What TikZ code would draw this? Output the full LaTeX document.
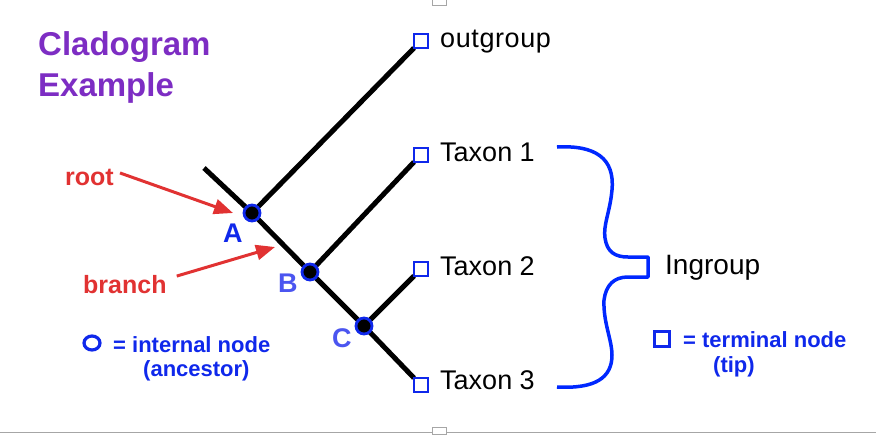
\documentclass[tikz,border=0pt]{standalone}
\usepackage{fontspec}
\setmainfont{Liberation Sans}
\usetikzlibrary{arrows.meta}
\definecolor{ttlpurple}{RGB}{125,45,195}
\definecolor{rootred}{RGB}{225,50,50}
\definecolor{nodeblue}{RGB}{15,40,235}
\definecolor{lightblue}{RGB}{75,85,240}
\definecolor{bracecol}{RGB}{0,40,255}
\tikzset{
  tip/.style={draw=nodeblue, line width=2.5pt, fill=white, minimum size=14pt, inner sep=0pt, outer sep=0pt},
  inner/.style={circle, draw=nodeblue, line width=2.8pt, fill=black, minimum size=16pt, inner sep=0pt},
  stem/.style={line width=5pt, black},
  redarrow/.style={rootred, line width=3pt, -{Triangle[length=19pt,width=15pt]}},
  txt/.style={anchor=base west, inner sep=0pt},
  title/.style={txt, text=ttlpurple, font=\fontsize{33}{38}\selectfont\bfseries},
  taxon/.style={txt, text=black, font=\fontsize{27}{30}\selectfont},
  redlbl/.style={txt, text=rootred, font=\fontsize{25}{30}\selectfont\bfseries},
  letter/.style={txt, font=\fontsize{27}{30}\selectfont\bfseries},
  legend/.style={txt, text=nodeblue, font=\fontsize{22}{26}\selectfont\bfseries},
}
\begin{document}
\begin{tikzpicture}[x=1pt,y=-1pt]
\useasboundingbox (0,0) rectangle (876,434);
% frame artifacts
\draw[gray!70, line width=1.5pt] (0,432.5) -- (876,432.5);
\draw[gray!70, line width=1pt, fill=white] (432,434) rectangle (446,427);
\draw[gray!70, line width=1pt, fill=white] (432,-1) rectangle (446,5);
% title
\node[title] (t1l) at (38,55) {Cladogram};
\node[title] (t2l) at (38,96) {Example};
% coordinates
\coordinate (rs) at (204,168);
\coordinate (pa) at (252,213);
\coordinate (pb) at (310,272);
\coordinate (pc) at (364,326);
% tips
\node[tip] (tO) at (421,41) {};
\node[tip] (tA) at (421,155) {};
\node[tip] (tB) at (421,269) {};
\node[tip] (tC) at (421,385) {};
% branches
\draw[stem] (rs) -- (pa) -- (pb) -- (pc) -- (tC.north west);
\draw[stem] (pa) -- (tO.south west);
\draw[stem] (pb) -- (tA.south west);
\draw[stem] (pc) -- (tB.south west);
% redraw tips on top
\node[tip] at (421,41) {};
\node[tip] at (421,155) {};
\node[tip] at (421,269) {};
\node[tip] at (421,385) {};
% internal nodes
\node[inner] (nA) at (pa) {};
\node[inner] (nB) at (pb) {};
\node[inner] (nC) at (pc) {};
% taxon labels
\node[taxon] (lo) at (440,47) {o\kern0.6pt u\kern0.6pt t\kern0.6pt g\kern0.6pt r\kern0.6pt o\kern0.6pt u\kern0.6pt p};
\node[taxon] (l1) at (440,161) {Taxon 1};
\node[taxon] (l2) at (440,275) {Taxon 2};
\node[taxon] (l3) at (440,389) {Taxon 3};
\node[taxon, font=\fontsize{28}{30}\selectfont] (lin) at (665,274) {Ingroup};
% brace
\draw[bracecol, line width=3.5pt, line join=round]
  (557,147) .. controls (595,145) and (615,158) .. (612,190)
  .. controls (610,212) and (603,225) .. (605,238)
  .. controls (607,252) and (615,257) .. (628,257)
  -- (648,257) -- (648,277) -- (628,277)
  .. controls (614,277) and (606,285) .. (604,300)
  .. controls (603,322) and (612,340) .. (612,355)
  .. controls (612,378) and (595,389) .. (557,387);
% letters
\node[letter, text=nodeblue] (la) at (223,242) {A};
\node[letter, text=lightblue] (lb) at (278,292) {B};
\node[letter, text=lightblue] (lc) at (332,347) {C};
% red labels and arrows
\node[redlbl] (root) at (65,185) {root};
\node[redlbl] (branch) at (83,293) {branch};
\coordinate (rootend) at (233,213);
\coordinate (branchend) at (275,247);
\draw[redarrow] (root.east) ++(6,-4) coordinate (rst) -- (rootend);
\draw[redarrow] (branch.east) ++(10,-8) coordinate (bst) -- (branchend);
% legends
\draw[nodeblue, line width=3.2pt] (92,343) ellipse [x radius=8, y radius=7] node (lc1) {};
\node[legend] (li) at (113,352) {= internal node};
\node[legend] (la2) at (143,376) {(ancestor)};
\node[tip, minimum size=15pt, line width=2.2pt] (ls) at (662,339) {};
\node[legend] (lt) at (683,347) {= terminal node};
\node[legend] (lt2) at (713,372) {(tip)};
\end{tikzpicture}
\end{document}
